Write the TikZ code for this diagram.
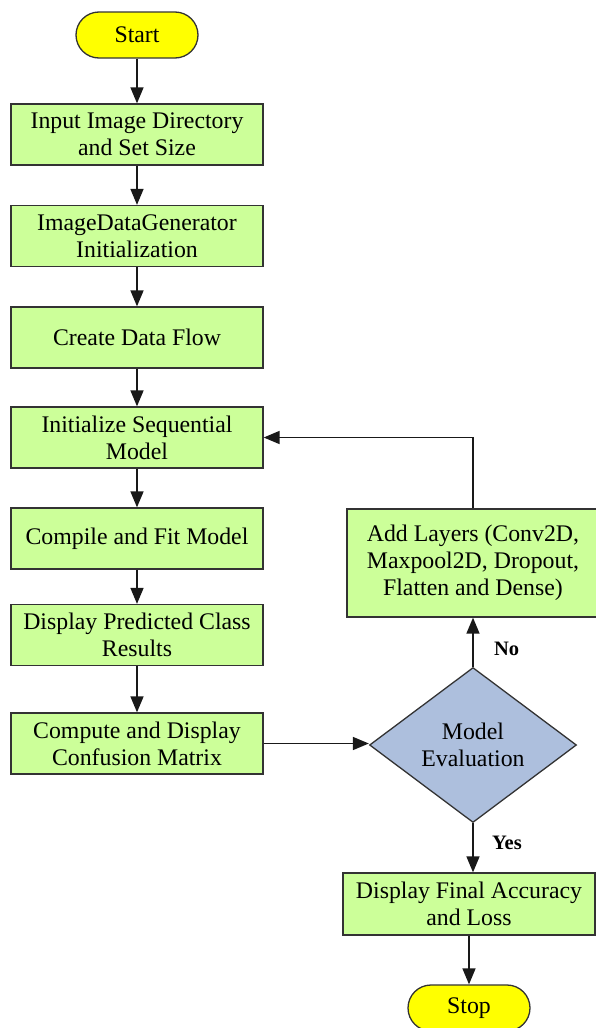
\documentclass[tikz,border=0pt]{standalone}
\usepackage{fontspec}
\setmainfont{Liberation Serif}
\usetikzlibrary{arrows.meta,shapes.geometric}
\definecolor{boxgreen}{HTML}{CCFF99}
\definecolor{termyellow}{HTML}{FFFF00}
\definecolor{decblue}{HTML}{ADBFDD}
\definecolor{edgegray}{HTML}{333333}
\begin{document}
\begin{tikzpicture}[x=1pt,y=-1pt,
  every node/.style={font=\fontsize{23.8}{27}\selectfont, text=black},
  procbox/.style={draw=edgegray, line width=1.3pt, fill=boxgreen, minimum width=252pt, minimum height=61pt, align=center, inner sep=0pt},
  termbox/.style={draw=edgegray, line width=1.3pt, fill=termyellow, minimum width=122pt, minimum height=46pt, rounded corners=23pt, inner sep=0pt},
  decbox/.style={draw=edgegray, line width=1.3pt, fill=decblue, diamond, minimum width=207pt, minimum height=155pt, inner sep=0pt},
  conn/.style={draw=black!90, line width=1.6pt, -{Triangle[length=16pt,width=13pt]}},
  lbl/.style={font=\fontsize{20.5}{23}\selectfont\bfseries}
]
\useasboundingbox (0,0) rectangle (596,1028);
\node[termbox] (start) at (137,35) {Start};
\node[procbox] (b1) at (137,134.5) {Input Image Directory\\and Set Size};
\node[procbox] (b2) at (137,236) {ImageDataGenerator\\Initialization};
\node[procbox] (b3) at (137,337.5) {Create Data Flow};
\node[procbox] (b4) at (137,437.5) {Initialize Sequential\\Model};
\node[procbox] (b5) at (137,538.5) {Compile and Fit Model};
\node[procbox] (b6) at (137,635) {Display Predicted Class\\Results};
\node[procbox] (b7) at (137,743.5) {Compute and Display\\Confusion Matrix};
\node[procbox, minimum height=108pt] (rb) at (473,563) {Add Layers (Conv2D,\\Maxpool2D, Dropout,\\Flatten and Dense)};
\node[decbox] (dec) at (473,745) {};
\node[align=center] (dectext) at (dec.center) {Model\\Evaluation};
\node[procbox, minimum height=62pt] (fin) at (469,904) {Display Final Accuracy\\and Loss};
\node[termbox] (stop) at (469,1008) {Stop};

\draw[conn] (start) -- (b1);
\draw[conn] (b1) -- (b2);
\draw[conn] (b2) -- (b3);
\draw[conn] (b3) -- (b4);
\draw[conn] (b4) -- (b5);
\draw[conn] (b5) -- (b6);
\draw[conn] (b6) -- (b7);
\draw[conn] (b7.east) -- (b7.east -| dec.west);
\draw[conn] (dec.north) -- (dec.north |- rb.south) node[lbl, pos=0.37, right=17pt] {No};
\draw[conn] (rb.north) |- (b4.east);
\draw[conn] (dec.south) -- (dec.south |- fin.north) node[lbl, pos=0.4, right=15pt] {Yes};
\draw[conn] (fin) -- (stop);
\end{tikzpicture}
\end{document}
